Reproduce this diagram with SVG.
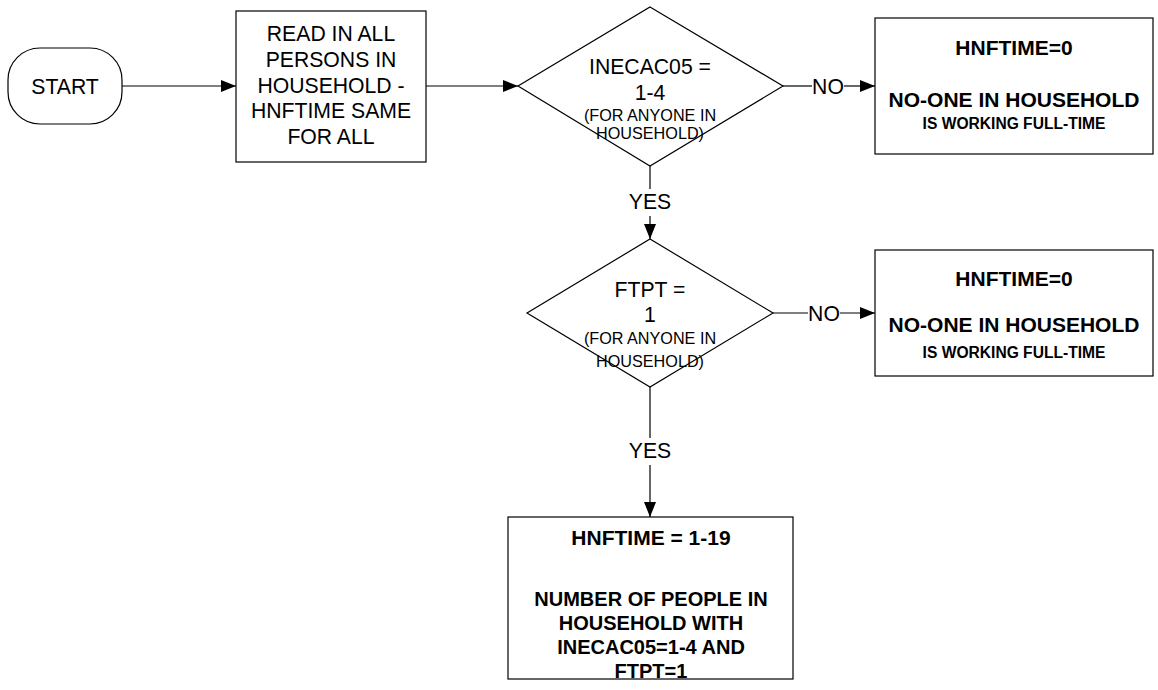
<svg xmlns="http://www.w3.org/2000/svg" width="1158" height="690" viewBox="0 0 1158 690">
<style>
.shape{fill:#fff;stroke:#000;stroke-width:1.2}
.conn{fill:none;stroke:#000;stroke-width:1.2}
text{font-family:"Liberation Sans",Arial,sans-serif;fill:#000;text-anchor:middle}
.t{font-size:21.2px}
.s{font-size:16.2px}
.b{font-size:21px;font-weight:bold}
.b3{font-size:20px;font-weight:bold}
.bs{font-size:15.6px;font-weight:bold}
</style>
<defs>
<marker id="arrow" markerUnits="userSpaceOnUse" markerWidth="15" markerHeight="12" refX="15" refY="6" orient="auto">
<path d="M0,0 L15,6 L0,12 Z" fill="#000"/>
</marker>
</defs>
<rect width="1158" height="690" fill="#fff"/>
<g id="connectors">
<path class="conn" d="M122,86 L236,86" marker-end="url(#arrow)"/>
<path class="conn" d="M426,86 L518,86" marker-end="url(#arrow)"/>
<path class="conn" d="M783,86 L812,86"/>
<text class="t" x="828" y="93.5">NO</text>
<path class="conn" d="M844,86 L875,86" marker-end="url(#arrow)"/>
<path class="conn" d="M650,166 L650,189"/>
<text class="t" x="650" y="209">YES</text>
<path class="conn" d="M650,216 L650,239" marker-end="url(#arrow)"/>
<path class="conn" d="M773,313 L808,313"/>
<text class="t" x="824" y="320.5">NO</text>
<path class="conn" d="M840,313 L875,313" marker-end="url(#arrow)"/>
<path class="conn" d="M650,387 L650,438"/>
<text class="t" x="650" y="458">YES</text>
<path class="conn" d="M650,465 L650,517" marker-end="url(#arrow)"/>
</g>
<g id="start">
<rect class="shape" x="8" y="48" width="114" height="76" rx="32" ry="32"/>
<text class="t" x="65" y="93.5">START</text>
</g>
<g id="read">
<rect class="shape" x="236" y="11" width="190" height="151"/>
<text class="t" x="331" y="41.3">READ IN ALL</text>
<text class="t" x="331" y="67">PERSONS IN</text>
<text class="t" x="331" y="92.7">HOUSEHOLD -</text>
<text class="t" x="331" y="118.3">HNFTIME SAME</text>
<text class="t" x="331" y="144">FOR ALL</text>
</g>
<g id="decision1">
<polygon class="shape" points="650,7 783,86 650,166 518,86"/>
<text class="t" x="650" y="74">INECAC05 =</text>
<text class="t" x="650" y="99.5">1-4</text>
<text class="s" x="650" y="120.5">(FOR ANYONE IN</text>
<text class="s" x="650" y="139">HOUSEHOLD)</text>
</g>
<g id="result1">
<rect class="shape" x="875" y="18" width="278" height="136"/>
<text class="b" x="1014" y="55">HNFTIME=0</text>
<text class="b" x="1014" y="107">NO-ONE IN HOUSEHOLD</text>
<text class="bs" x="1014" y="128.5">IS WORKING FULL-TIME</text>
</g>
<g id="decision2">
<polygon class="shape" points="650,239 773,313 650,387 527,313"/>
<text class="t" x="650" y="296.7">FTPT =</text>
<text class="t" x="650" y="321.5">1</text>
<text class="s" x="650" y="344">(FOR ANYONE IN</text>
<text class="s" x="650" y="366.7">HOUSEHOLD)</text>
</g>
<g id="result2">
<rect class="shape" x="875" y="250" width="278" height="126"/>
<text class="b" x="1014" y="285.5">HNFTIME=0</text>
<text class="b" x="1014" y="332">NO-ONE IN HOUSEHOLD</text>
<text class="bs" x="1014" y="357.5">IS WORKING FULL-TIME</text>
</g>
<g id="result3">
<rect class="shape" x="508" y="517" width="285" height="162"/>
<text class="b" x="651" y="545">HNFTIME = 1-19</text>
<text class="b3" x="651" y="606">NUMBER OF PEOPLE IN</text>
<text class="b3" x="651" y="630">HOUSEHOLD WITH</text>
<text class="b3" x="651" y="654">INECAC05=1-4 AND</text>
<text class="b3" x="651" y="678">FTPT=1</text>
</g>
</svg>
